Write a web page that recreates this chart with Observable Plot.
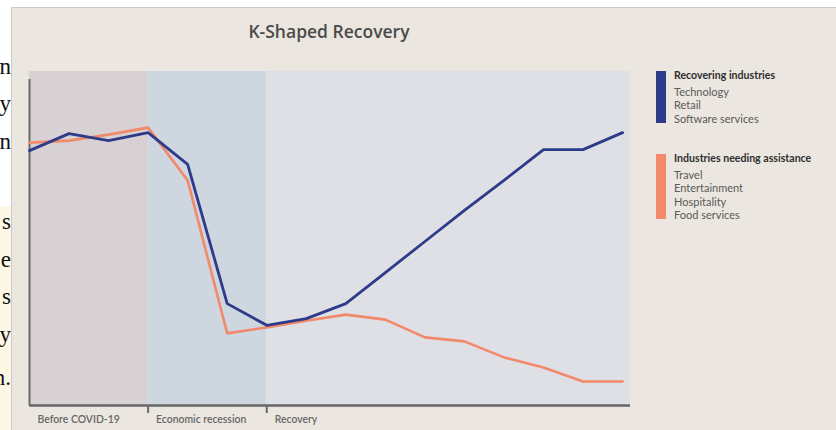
<!DOCTYPE html>
<html>
<head>
<meta charset="utf-8">
<script src="https://cdn.jsdelivr.net/npm/d3@7"></script>
<script src="https://cdn.jsdelivr.net/npm/@observablehq/plot@0.6"></script>
<style>
  body { margin: 0; background: #fff; }
  #wrap { position: relative; width: 836px; height: 430px; overflow: hidden; font-family: Lato, "Open Sans", sans-serif; }
  #strip { position: absolute; left: 0; top: 0; width: 12px; height: 430px; overflow: hidden;
           background: linear-gradient(#ffffff 0 206px, #fdf8e6 206px); }
  .frag { position: absolute; right: 1px; font-family: "Liberation Serif", "DejaVu Serif", serif; font-size: 23px; color: #111; white-space: nowrap; line-height: 1; }
  #panel { position: absolute; left: 11px; top: 7px; width: 825px; height: 423px; background: #ebe6df;
           border-top: 1px solid #cdcbc8; border-left: 1px solid #cdcbc8; box-sizing: border-box; }
  #title { position: absolute; left: 229px; width: 200px; top: 19px; text-align: center; font-family: "Open Sans", sans-serif;
           font-weight: 600; font-size: 17.5px; color: #4b4b4b; }
  #chart { position: absolute; left: 0; top: 0; }
  .bar { position: absolute; left: 656px; width: 10px; }
  .leg { position: absolute; left: 674px; font-size: 11px; color: #5a5a5a; line-height: 13.2px; }
  .leg b { display: block; font-size: 10.6px; color: #2f2f2f; font-weight: 700; margin-bottom: 3px; }
</style>
</head>
<body>
<div id="wrap">
  <div id="strip"></div>
  <div id="panel"></div>
  <div id="title"></div>
  <div id="chart"></div>
  <div class="bar" id="bar1"></div>
  <div class="bar" id="bar2"></div>
  <div class="leg" id="leg1"></div>
  <div class="leg" id="leg2"></div>
</div>
<script>
// ---- data ----
const title = "K-Shaped Recovery";
const periods = ["Before COVID-19", "Economic recession", "Recovery"];
const periodStart = [0, 3, 6];
const periodEnd = [3, 6, 15.2];
const step = [0, 1, 2, 3, 4, 5, 6, 7, 8, 9, 10, 11, 12, 13, 14, 15];
const recovering = [76.3, 81.4, 79.3, 81.7, 72.2, 30.5, 24.0, 26.0, 30.5, 39.8, 49.1, 58.4, 67.4, 76.6, 76.6, 81.7];
const assistance = [78.7, 79.3, 81.1, 83.2, 67.4, 21.6, 23.4, 25.4, 27.2, 25.7, 20.4, 19.2, 14.4, 11.4, 7.2, 7.2];
const recoveringName = "Recovering industries";
const recoveringItems = ["Technology", "Retail", "Software services"];
const assistanceName = "Industries needing assistance";
const assistanceItems = ["Travel", "Entertainment", "Hospitality", "Food services"];
const fragments = ["n", "y", "n", "s", "e", "s", "y", "n."];

// ---- styles ----
const blue = "#2e3a8a";
const orange = "#f2896a";
const bandColors = ["#d7d1d4", "#ced6e0", "#dfe0e6"];
const fragTops = [55, 92, 130, 210, 248, 285, 323, 366];

// fragments of the page behind the screenshot
const strip = document.getElementById("strip");
fragments.forEach((t, i) => {
  const s = document.createElement("div");
  s.className = "frag";
  s.style.top = fragTops[i] + "px";
  s.textContent = t;
  strip.appendChild(s);
});

document.getElementById("title").textContent = title;

const chart = Plot.plot({
  width: 836,
  height: 430,
  marginLeft: 29,
  marginRight: 206,
  marginTop: 71,
  marginBottom: 25,
  style: { background: "transparent", overflow: "visible" },
  x: { domain: [0, 15.2], axis: null },
  y: { domain: [0, 100], axis: null },
  color: { domain: periods, range: bandColors },
  marks: [
    Plot.rect(periods, {
      x1: (d, i) => periodStart[i], x2: (d, i) => periodEnd[i],
      y1: 0, y2: 100, fill: d => d
    }),
    Plot.ruleY([0], { stroke: "#666", strokeWidth: 2.5 }),
    Plot.ruleX(periods, {
      x: (d, i) => periodStart[i], y1: 0, y2: (d, i) => i === 0 ? 100 : 0,
      insetBottom: -8, stroke: "#6a6a6a", strokeWidth: 2
    }),
    Plot.text(periods, {
      x: (d, i) => periodStart[i], y: 0, text: d => d,
      textAnchor: "start", dx: 8, dy: 14, fontSize: 10.4, fontWeight: 600,
      fill: "#666", fontFamily: "Lato, sans-serif"
    }),
    Plot.line(step, { x: d => d, y: (d, i) => assistance[i], stroke: orange, strokeWidth: 2.6, strokeLinejoin: "miter" }),
    Plot.line(step, { x: d => d, y: (d, i) => recovering[i], stroke: blue, strokeWidth: 2.8, strokeLinejoin: "miter" })
  ]
});
document.getElementById("chart").appendChild(chart);

// legend
const bar1 = document.getElementById("bar1");
bar1.style.cssText += `top:71px;height:52px;background:${blue};`;
const bar2 = document.getElementById("bar2");
bar2.style.cssText += `top:154px;height:65px;background:${orange};`;
const leg1 = document.getElementById("leg1");
leg1.style.top = "69px";
leg1.innerHTML = `<b>${recoveringName}</b>` + recoveringItems.map(t => `<div>${t}</div>`).join("");
const leg2 = document.getElementById("leg2");
leg2.style.top = "152px";
leg2.innerHTML = `<b>${assistanceName}</b>` + assistanceItems.map(t => `<div>${t}</div>`).join("");
</script>
</body>
</html>
